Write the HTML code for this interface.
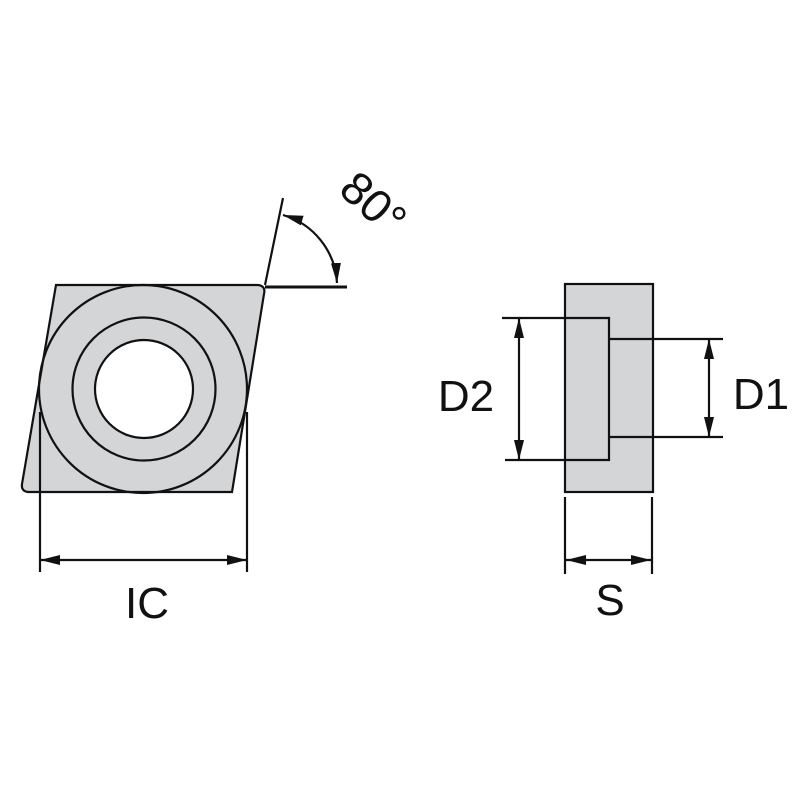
<!DOCTYPE html>
<html><head><style>body{margin:0;background:#fff}svg{display:block}</style></head><body>
<svg width="800" height="800" viewBox="0 0 800 800" xmlns="http://www.w3.org/2000/svg">
<defs>
<marker id="a" markerWidth="20" markerHeight="10" refX="20" refY="5" orient="auto" markerUnits="userSpaceOnUse"><path d="M0,0 L20,5 L0,10 Z" fill="#111"/></marker>
<marker id="b" markerWidth="20" markerHeight="10" refX="0" refY="5" orient="auto" markerUnits="userSpaceOnUse"><path d="M20,0 L0,5 L20,10 Z" fill="#111"/></marker>
</defs>
<g stroke="#111" stroke-width="2.2" fill="none">
<path d="M56,285 L258,285 Q266,286 264,294 L232,492 L28,492 Q21,491 22,484 Z" fill="#d4d5d7"/>
<circle cx="143" cy="389" r="104"/>
<circle cx="144" cy="389" r="71.5"/>
<circle cx="144" cy="389" r="49" fill="#fff"/>
<line x1="40" y1="412" x2="40" y2="572"/>
<line x1="247" y1="412" x2="247" y2="572"/>
<line x1="40" y1="560" x2="247" y2="560" marker-start="url(#b)" marker-end="url(#a)"/>
<line x1="265" y1="285" x2="283" y2="198"/>
<line x1="265" y1="287" x2="347" y2="287" stroke-width="3"/>
<path d="M283,215 A75,75 0 0 1 337,283" marker-start="url(#b)" marker-end="url(#a)"/>
<rect x="565" y="284" width="88" height="208" fill="#d4d5d7"/>
<path d="M502,318 L609,318 L609,460 L505,460" />
<line x1="609" y1="339" x2="723" y2="339"/>
<line x1="609" y1="437" x2="723" y2="437"/>
<line x1="519" y1="318" x2="519" y2="460" marker-start="url(#b)" marker-end="url(#a)"/>
<line x1="709" y1="339" x2="709" y2="437" marker-start="url(#b)" marker-end="url(#a)"/>
<line x1="565" y1="497" x2="565" y2="574"/>
<line x1="652" y1="497" x2="652" y2="574"/>
<line x1="566" y1="560" x2="651" y2="560" marker-start="url(#b)" marker-end="url(#a)"/>
</g>
<g font-family="Liberation Sans, sans-serif" font-size="44" fill="#111">
<text x="147" y="618" text-anchor="middle">IC</text>
<text x="466" y="411" text-anchor="middle">D2</text>
<text x="761" y="409" text-anchor="middle">D1</text>
<text x="610" y="615" text-anchor="middle">S</text>
<text x="0" y="0" transform="translate(337,192) rotate(42)" font-size="46">80°</text>
</g>
</svg>
</body></html>
